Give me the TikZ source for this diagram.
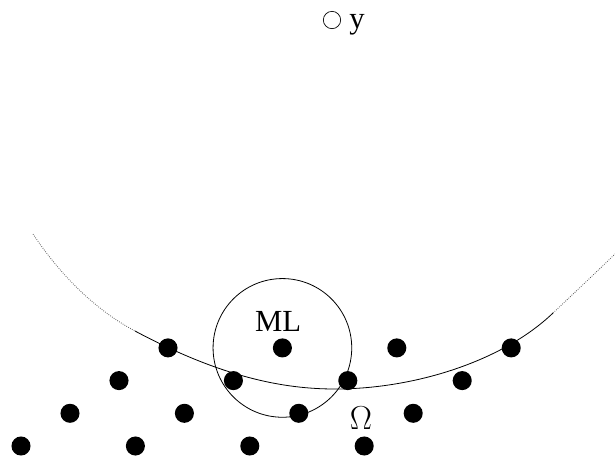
\documentclass[tikz,border=0pt]{standalone}
\usepackage{fontspec}
\setmainfont{Liberation Serif}
\usetikzlibrary{positioning, calc}
\tikzset{
    latticept/.style={circle, fill=black, inner sep=0pt, minimum size=14.3pt},
    querypt/.style={circle, draw=black, line width=0.5pt, inner sep=0pt, minimum size=13pt},
    txtlbl/.style={font=\fontsize{23}{27}\selectfont, inner sep=0pt, anchor=base},
    arcsolid/.style={line width=0.6pt, black},
    arcdotted/.style={line width=0.6pt, gray!70!black, densely dotted},
    mlcircle/.style={line width=0.6pt, black}
}

\begin{document}
\begin{tikzpicture}[x=0.75pt, y=-0.75pt]
    \useasboundingbox (0,0) rectangle (615,458);

    % Query point
    \node[querypt] (y) at (332,20) {};
    \node[txtlbl] (ylbl) at (357,28) {y};

    % Lattice points
    \foreach \r in {0,...,3} {
        \foreach \c in {0,...,3} {
            \node[latticept] (p\r\c) at ({21+49*\r+114.4*\c},{446-32.7*\r}) {};
        }
    }

    % Ball around the ML point
    \draw[mlcircle] (p31) circle[radius=52pt];
    \node[txtlbl] (ml) at (278,331) {ML};
    \node[txtlbl] (omega) at (361,429) {$\Omega$};

    % Sphere around y
    \draw[arcdotted] (33,234) .. controls (59,273) and (93.5,309) .. (135,331);
    \draw[arcsolid] (135,331) .. controls (223,378) and (285,389) .. (335,389)
        .. controls (415,389) and (503,361) .. (553,313);
    \draw[arcdotted] (553,313) .. controls (571,296) and (597,271.5) .. (615,254);
\end{tikzpicture}
\end{document}
